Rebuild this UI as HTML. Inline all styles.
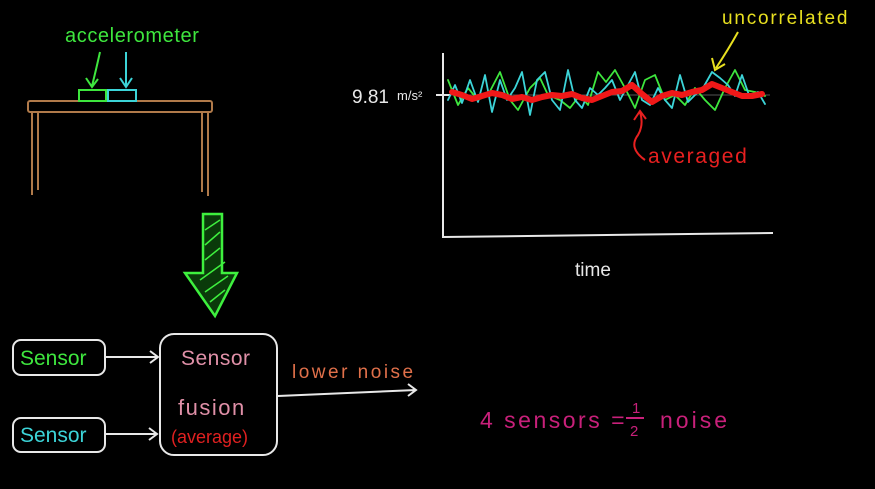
<!DOCTYPE html>
<html><head><meta charset="utf-8"><style>
html,body{margin:0;padding:0;background:#000;}
svg{display:block;}
text{font-family:"Liberation Sans",sans-serif;}
</style></head><body>
<svg id="s" width="875" height="489" viewBox="0 0 875 489">
<rect width="875" height="489" fill="#000"/>
<g stroke="#b07a4a" stroke-width="2" fill="none">
<rect x="28" y="101" width="184" height="11" rx="2"/>
<line x1="32" y1="112" x2="32" y2="195"/><line x1="38" y1="112" x2="38" y2="190"/>
<line x1="202" y1="112" x2="202" y2="192"/><line x1="208" y1="112" x2="208" y2="196"/>
</g>
<rect x="79" y="90" width="27" height="11" fill="none" stroke="#3ee63e" stroke-width="2"/>
<rect x="108" y="90" width="28" height="11" fill="none" stroke="#3cd4d8" stroke-width="2"/>
<text x="65" y="42" fill="#3ee63e" font-size="20" letter-spacing="0.6">accelerometer</text>
<path d="M100 52 Q96 70 92 86 M86 78 L92 87 L98 79" stroke="#3ee63e" stroke-width="2" fill="none"/>
<path d="M126 52 L126 86 M120 78 L126 87 L132 78" stroke="#3cd4d8" stroke-width="2" fill="none"/>
<g>
<path d="M203 214 L222 214 L222 273 L237 273 L215 316 L185 273 L203 273 Z" fill="#0a3a0a" stroke="#3ef03e" stroke-width="2.5"/>
<path d="M205 230 L220 220 M205 245 L220 232 M205 260 L220 248 M200 280 L225 262 M205 292 L228 276 M210 302 L225 290" stroke="#3ef03e" stroke-width="1.5"/>
</g>
<rect x="13" y="340" width="92" height="35" rx="8" fill="none" stroke="#e8e8e8" stroke-width="2"/>
<text x="20" y="365" fill="#3ee63e" font-size="21">Sensor</text>
<rect x="13" y="418" width="92" height="34" rx="8" fill="none" stroke="#e8e8e8" stroke-width="2"/>
<text x="20" y="442" fill="#3cd4d8" font-size="21">Sensor</text>
<path d="M106 357 L158 357 M150 351 L158 357 L150 363" stroke="#e8e8e8" stroke-width="2" fill="none"/>
<path d="M106 434 L157 434 M149 428 L157 434 L149 440" stroke="#e8e8e8" stroke-width="2" fill="none"/>
<rect x="160" y="334" width="117" height="121" rx="14" fill="none" stroke="#e8e8e8" stroke-width="2"/>
<text x="181" y="365" fill="#e090a8" font-size="21" letter-spacing="0.5">Sensor</text>
<text x="178" y="415" fill="#e090a8" font-size="22" letter-spacing="1.5">fusion</text>
<text x="171" y="443" fill="#e02020" font-size="18">(average)</text>
<path d="M278 396 L416 390 M408 384 L416 390 L408 396" stroke="#e8e8e8" stroke-width="2" fill="none"/>
<text x="292" y="378" fill="#e0704a" font-size="19" letter-spacing="2.5">lower noise</text>
<text x="480" y="428" fill="#c8207a" font-size="23" letter-spacing="2.5">4 sensors =</text>
<text x="632" y="413" fill="#c8207a" font-size="15">1</text>
<line x1="626" y1="418" x2="644" y2="418" stroke="#c8207a" stroke-width="2"/>
<text x="630" y="436" fill="#c8207a" font-size="15">2</text>
<text x="660" y="428" fill="#c8207a" font-size="23" letter-spacing="3">noise</text>
<g id="chart">
<line x1="443" y1="53" x2="443" y2="238" stroke="#e8e8e8" stroke-width="2"/>
<line x1="443" y1="237" x2="773" y2="233" stroke="#e8e8e8" stroke-width="2"/>
<line x1="437" y1="95" x2="770" y2="95" stroke="#555" stroke-width="1"/>
<line x1="436" y1="95" x2="450" y2="95" stroke="#e8e8e8" stroke-width="2"/>
<text x="352" y="103" fill="#e8e8e8" font-size="19">9.81</text>
<text x="397" y="100" fill="#e8e8e8" font-size="13">m/s²</text>
<text x="575" y="276" fill="#e8e8e8" font-size="19">time</text>
</g>
<text x="722" y="24" fill="#e8e020" font-size="19" letter-spacing="1.8">uncorrelated</text>
<path d="M738 32 Q728 50 716 68 M712 58 L715 70 L725 64" stroke="#e8e020" stroke-width="2" fill="none"/>
<text x="648" y="163" fill="#e82020" font-size="21" letter-spacing="1.6">averaged</text>
<path d="M645 160 Q628 148 638 135 Q644 125 640 112 M634 120 L640 111 L646 119" stroke="#e82020" stroke-width="2" fill="none"/>
</svg>
<script>
const greenTime=[0,10,20,30,40,52,62,70,82,92,100,112,122,132,140,150,158,167,177,187,197,207,217,227,237,247,257,267,277,287,297,307,317];
const greenValues=[9.96,9.71,9.88,9.76,9.81,10.04,9.76,9.66,9.88,9.98,9.81,9.76,9.68,9.81,9.71,10.04,9.94,10.06,9.88,9.68,9.96,10.01,9.76,9.81,9.71,9.88,9.76,9.66,9.88,10.06,9.86,9.84,9.80];
const cyanTime=[0,7,14,22,30,37,44,52,59,67,74,82,89,97,104,112,120,127,134,142,150,157,164,172,180,187,194,202,210,217,224,232,240,247,255,264,272,280,287,294,302,310,317];
const cyanValues=[9.76,9.91,9.73,9.96,9.74,10.01,9.64,9.96,9.76,9.88,10.04,9.61,9.96,10.04,9.76,9.66,10.06,9.76,9.68,9.88,9.81,9.88,9.96,9.76,9.91,10.04,9.76,9.71,9.88,9.76,9.68,10.01,9.74,9.81,9.88,10.04,9.98,9.91,9.80,10.01,9.78,9.84,9.72];
const redTime=[4,14,24,34,44,54,64,74,84,94,104,114,124,134,144,154,164,174,184,194,204,214,224,234,244,254,264,274,284,294,304,314];
const redValues=[9.84,9.81,9.77,9.80,9.83,9.81,9.77,9.79,9.76,9.79,9.81,9.80,9.82,9.78,9.76,9.80,9.84,9.85,9.91,9.82,9.74,9.80,9.83,9.81,9.84,9.86,9.92,9.88,9.84,9.80,9.80,9.82];
const NS='http://www.w3.org/2000/svg';
const xScale=t=>448+t;
const yScale=v=>95-(v-9.81)*100;
const chart=document.getElementById('chart');
function draw(ts,vs,color,w,name){
  const p=document.createElementNS(NS,'polyline');
  p.setAttribute('points',ts.map((t,i)=>xScale(t)+','+yScale(vs[i]).toFixed(1)).join(' '));
  p.setAttribute('fill','none');p.setAttribute('stroke',color);p.setAttribute('stroke-width',w);
  p.setAttribute('stroke-linejoin','round');p.setAttribute('stroke-linecap','round');
  
  
  chart.appendChild(p);
}
draw(greenTime,greenValues,'#3ee63e',1.8,'green-sensor-line');
draw(cyanTime,cyanValues,'#3cd4d8',1.8,'cyan-sensor-line');
draw(redTime,redValues,'#f01818',6,'averaged-line');
</script>
</body></html>
